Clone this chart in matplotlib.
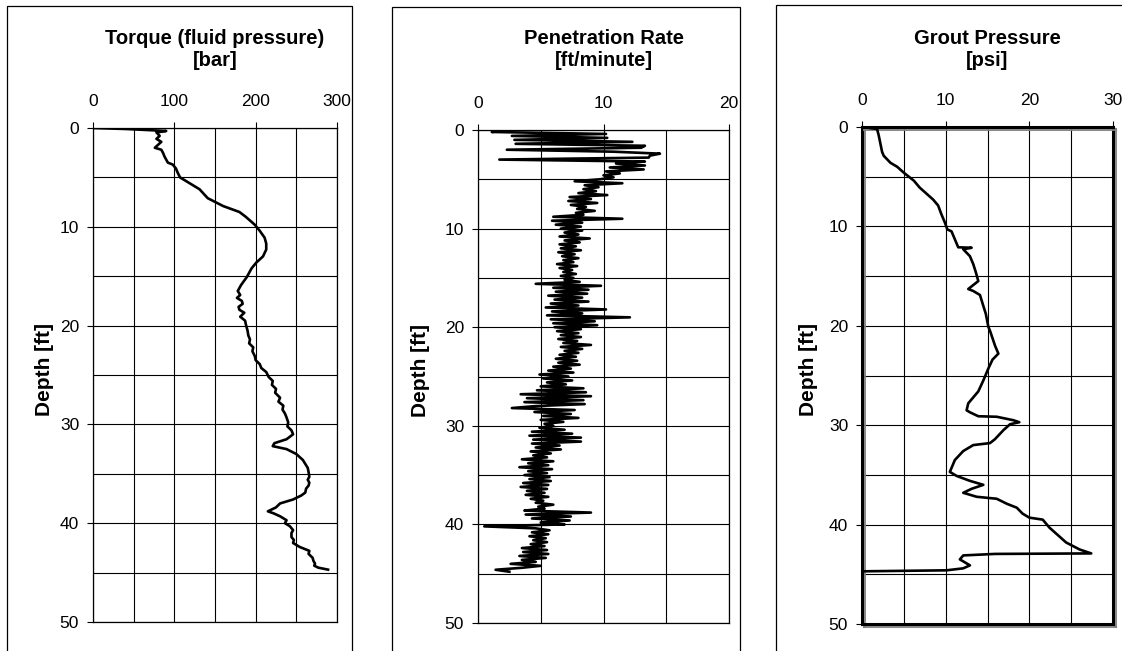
import matplotlib
matplotlib.use("Agg")
import matplotlib.pyplot as plt
import matplotlib.patheffects as pe
from matplotlib.patches import Rectangle
from matplotlib import font_manager
import numpy as np

plt.rcParams['font.family'] = ['Liberation Sans', 'DejaVu Sans']

# ---------------- data ----------------
torque_depth = [0.0, 0.1, 0.25, 0.3, 0.45, 0.8, 1.1, 1.4, 1.7, 2.0, 2.2, 2.5, 2.9, 3.2, 3.5,
                3.7, 4.1, 4.5, 5.0, 5.6, 6.2, 7.1, 7.9, 8.5, 9.0, 9.8, 10.4, 11.1, 11.7,
                12.3, 13.0, 13.6, 14.2, 15.1, 15.9, 16.5, 16.9, 17.2, 17.5, 17.8, 18.1,
                18.4, 18.7, 19.1, 19.5, 19.9, 20.5, 21.0, 21.4, 21.8, 22.2, 22.6, 23.1,
                23.5, 23.9, 24.3, 24.7, 25.2, 25.6, 26.0, 26.4, 26.8, 27.3, 27.7, 28.1,
                28.5, 28.9, 29.3, 29.8, 30.2, 30.6, 31.0, 31.5, 31.9, 32.2, 32.5, 33.0,
                33.6, 34.0, 34.4, 34.8, 35.3, 35.6, 35.9, 36.2, 36.5, 36.9, 37.2, 37.6,
                38.0, 38.4, 38.8, 39.0, 39.3, 39.7, 40.0, 40.3, 40.7, 41.0, 41.4, 41.7,
                42.0, 42.4, 42.8, 43.1, 43.5, 43.8, 44.1, 44.3, 44.5, 44.7]
torque_bar = [0, 40, 78, 90, 78, 82, 78, 84, 80, 76, 84, 86, 88, 90, 92,
              98, 102, 104, 107, 119, 131, 141, 160, 180, 188, 199, 205, 211, 213,
              213, 209, 201, 195, 189, 182, 178, 181, 177, 183, 184, 179,
              180, 186, 181, 187, 188, 190, 191, 193, 192, 197, 196, 199,
              200, 205, 207, 213, 216, 221, 220, 225, 224, 230, 228, 234,
              233, 236, 238, 240, 239, 244, 246, 238, 223, 221, 238, 250,
              258, 261, 264, 265, 266, 264, 266, 265, 262, 261, 256, 246,
              230, 225, 215, 222, 230, 238, 236, 242, 246, 244, 244, 247,
              246, 254, 266, 265, 270, 271, 273, 272, 277, 289]

pen_step_ft = 0.2
pen_rate = [2.5, 1.1, 10.2, 2.7, 10.3, 2.9, 12.3, 3.0, 13.3, 13.0,
            2.3, 10.8, 14.5, 13.7, 13.6, 1.7, 13.3, 11.0, 13.3, 10.5,
            13.2, 10.2, 11.3, 10.0, 10.8, 9.7, 7.7, 11.5, 8.5, 9.6,
            8.4, 9.4, 8.0, 10.3, 7.3, 9.0, 7.2, 9.5, 7.4, 8.6,
            7.9, 9.3, 7.8, 8.4, 6.0, 11.5, 5.9, 8.3, 6.2, 8.2,
            6.6, 8.3, 6.9, 8.0, 6.5, 8.9, 6.9, 8.1, 6.5, 7.8,
            6.6, 8.2, 6.4, 7.7, 6.7, 8.0, 6.8, 7.6, 6.3, 7.9,
            6.5, 7.5, 6.8, 7.8, 6.6, 7.6, 6.9, 8.1, 4.6, 9.8,
            6.0, 8.8, 6.2, 8.7, 5.6, 8.3, 6.1, 8.8, 5.8, 8.0,
            5.4, 10.2, 5.9, 8.3, 5.5, 12.1, 5.8, 9.3, 6.0, 9.5,
            6.1, 8.2, 6.3, 8.0, 6.6, 8.2, 6.4, 7.9, 6.8, 9.0,
            6.6, 8.3, 6.9, 8.0, 6.5, 7.8, 6.2, 7.9, 6.4, 8.1,
            6.0, 7.4, 5.6, 7.6, 4.9, 7.2, 5.2, 7.5, 5.5, 7.0,
            5.0, 8.4, 4.7, 8.6, 3.4, 9.0, 3.9, 8.4, 3.7, 8.5,
            4.6, 2.7, 7.7, 4.5, 7.4, 5.2, 8.0, 5.0, 6.8, 5.3,
            6.0, 4.9, 6.9, 4.3, 7.5, 4.1, 8.2, 4.4, 8.2, 4.3,
            6.5, 4.6, 6.6, 4.2, 5.8, 4.4, 5.5, 3.5, 6.0, 4.0,
            5.6, 3.3, 5.9, 4.0, 5.5, 3.7, 5.7, 4.1, 5.8, 3.6,
            5.6, 3.4, 5.5, 3.9, 5.3, 3.8, 5.6, 4.2, 5.2, 4.6,
            6.0, 4.8, 5.3, 3.7, 9.0, 3.8, 7.4, 4.3, 7.3, 5.0,
            6.9, 0.5, 4.6, 5.7, 4.3, 5.6, 4.1, 5.4, 4.4, 5.5,
            4.2, 5.3, 3.5, 5.5, 3.6, 5.6, 3.3, 5.4, 3.5, 4.6,
            2.6, 5.0, 3.5, 1.4, 2.5]
pen_depth = np.arange(len(pen_rate)) * pen_step_ft

grout_depth = [0.0, 0.2, 0.85, 2.5, 2.9, 3.6, 4.0, 4.6, 5.4, 6.1, 6.7, 7.3, 7.9, 8.8, 9.6,
               10.3, 10.5, 11.1, 11.7, 12.1, 12.15, 12.3, 13.0, 13.8, 14.6, 15.5, 16.3,
               16.5, 16.9, 18.0, 18.8, 20.1, 20.5, 22.0, 22.8, 23.4, 24.3, 25.5, 26.6,
               27.2, 27.8, 28.5, 28.7, 29.1, 29.15, 29.5, 29.7, 29.9, 30.5, 31.4, 31.8,
               32.0, 32.6, 33.5, 34.3, 34.7, 35.1, 35.6, 36.0, 36.4, 36.8, 37.2, 37.4,
               37.9, 38.3, 38.9, 39.3, 39.5, 40.3, 41.2, 41.8, 42.5, 42.9, 42.95, 43.1,
               43.5, 44.1, 44.4, 44.6, 44.7]
grout_psi = [0.0, 1.8, 2.0, 2.4, 2.6, 3.4, 4.2, 5.0, 6.2, 6.9, 7.7, 8.5, 9.1, 9.5, 9.9,
             10.2, 10.7, 11.0, 11.3, 11.5, 13.1, 12.1, 12.9, 13.3, 13.6, 13.9, 12.7,
             13.3, 14.1, 14.5, 14.8, 15.1, 15.3, 15.9, 16.3, 15.6, 15.1, 14.5, 13.9,
             13.3, 12.7, 12.5, 12.9, 13.9, 16.1, 18.1, 18.8, 17.7, 16.9, 15.9, 15.3,
             13.3, 12.1, 11.1, 10.7, 10.5, 11.3, 12.9, 14.5, 13.1, 12.1, 13.7, 16.1,
             17.3, 18.5, 19.2, 20.0, 21.6, 22.4, 23.6, 24.4, 26.0, 27.4, 15.9, 12.1,
             11.7, 12.9, 12.1, 10.1, 0.0]

titles = [("Torque (fluid pressure)", "[bar]"),
          ("Penetration Rate", "[ft/minute]"),
          ("Grout Pressure", "[psi]")]
x_max = [300, 20, 30]
x_major = [[0, 100, 200, 300], [0, 10, 20], [0, 10, 20, 30]]
x_grid_step = [50, 5, 5]
y_label = "Depth [ft]"

# condensed face for the depth label if available
_names = {f.name for f in font_manager.fontManager.ttflist}
ylab_family = ['Liberation Sans Narrow'] if 'Liberation Sans Narrow' in _names else ['Liberation Sans']

# ---------------- layout (pixels) ----------------
W, H = 1122, 651
fig = plt.figure(figsize=(W / 100, H / 100), dpi=100)

def rect(l, t, r, b):
    return [l / W, 1 - b / H, (r - l) / W, (b - t) / H]

axes_px = [(93, 128, 337, 622), (478, 130, 729, 623), (862, 127, 1113, 624)]
frames_px = [(7, 6, 352), (392, 7, 740), (776, 5, 1140)]
ylab_x = [44, 420, 808]

series = [(torque_bar, torque_depth), (pen_rate, pen_depth), (grout_psi, grout_depth)]

for i in range(3):
    fl, ft, fr = frames_px[i]
    fig.add_artist(Rectangle((fl / W, -0.05), (fr - fl) / W, 1.05 - ft / H,
                             transform=fig.transFigure, fill=False,
                             ec='black', lw=0.9))

    ax = fig.add_axes(rect(*axes_px[i]))
    xv, dv = series[i]
    ax.plot(xv, dv, color='black', lw=1.9, solid_joinstyle='round', zorder=3)

    ax.set_xlim(0, x_max[i])
    ax.set_ylim(50, 0)
    ax.xaxis.tick_top()
    ax.set_xticks(x_major[i])
    ax.set_xticks(np.arange(0, x_max[i] + 0.1, x_grid_step[i]), minor=True)
    ax.set_yticks(np.arange(0, 51, 10))
    ax.set_yticks(np.arange(0, 51, 5), minor=True)
    ax.grid(which='both', color='black', lw=0.8, zorder=1)
    ax.set_axisbelow(True)
    ax.tick_params(which='major', direction='out', length=4, width=0.8,
                   labelsize=12.5, color='black')
    ax.tick_params(axis='x', which='major', pad=10)
    ax.tick_params(axis='y', which='major', pad=6)
    ax.tick_params(which='minor', length=0)

    spine_lw = 2.2 if i == 2 else 0.9
    for s in ax.spines.values():
        s.set_linewidth(spine_lw)
        s.set_color('black')
        if i == 2:
            s.set_path_effects([pe.SimpleLineShadow(offset=(1.2, -1.2),
                                                    shadow_color='gray', alpha=0.9),
                                pe.Normal()])

    cx = (axes_px[i][0] + axes_px[i][2]) / 2
    fig.text(cx / W, 1 - 38 / H, titles[i][0], ha='center', va='center',
             fontsize=14.5, fontweight='bold')
    fig.text(cx / W, 1 - 60 / H, titles[i][1], ha='center', va='center',
             fontsize=14.5, fontweight='bold')
    cy = (axes_px[i][1] + axes_px[i][3]) / 2 - 6
    fig.text(ylab_x[i] / W, 1 - cy / H, y_label, ha='center', va='center',
             rotation=90, fontsize=15, fontweight='bold', family=ylab_family)

fig.savefig("out.png", dpi=100, facecolor='white')
